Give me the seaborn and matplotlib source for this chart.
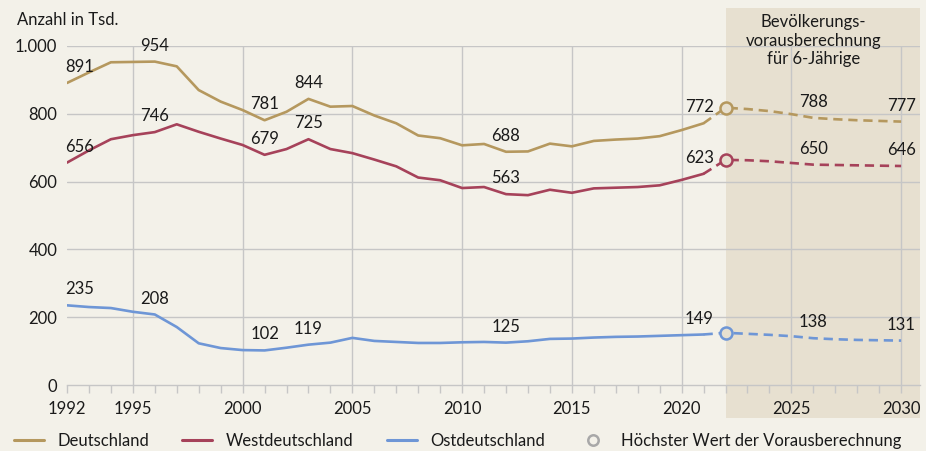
import seaborn as sns
import matplotlib.pyplot as plt
import pandas as pd
from matplotlib.lines import Line2D

# 6-Jaehrige, Anzahl in Tsd. (Ist-Werte 1992-2021)
jahre = list(range(1992, 2022))
deutschland = [891, 922, 952, 953, 954, 940, 870, 836, 811, 781, 806, 844, 821, 823, 795,
               772, 736, 728, 707, 711, 688, 689, 712, 704, 720, 724, 727, 734, 752, 772]
west = [656, 692, 725, 737, 746, 769, 747, 727, 708, 679, 696, 725, 696, 684, 665,
        645, 612, 604, 581, 584, 563, 560, 576, 567, 580, 582, 584, 589, 605, 623]
ost = [235, 230, 227, 216, 208, 171, 123, 109, 103, 102, 110, 119, 125, 139, 130,
       127, 124, 124, 126, 127, 125, 129, 136, 137, 140, 142, 143, 145, 147, 149]

# Vorausberechnung 2022-2030
jahre_vb = list(range(2022, 2031))
deutschland_vb = [818, 814, 808, 799, 788, 784, 781, 779, 777]
west_vb = [664, 663, 660, 655, 650, 649, 648, 647, 646]
ost_vb = [154, 151, 148, 144, 138, 135, 133, 132, 131]

label_jahre = [1992, 1996, 2001, 2003, 2012, 2021, 2026, 2030]
namen = ["Deutschland", "Westdeutschland", "Ostdeutschland"]
farben = ["#b5985e", "#a6425a", "#6e96d6"]

bg = "#f3f1e9"
band = "#e7e0d0"
grau = "#c6c6c6"
txt = "#1a1a1a"
fs = 12

sns.set_theme(style="white")
plt.rcParams["font.family"] = ["Lato", "DejaVu Sans"]
plt.rcParams["font.size"] = fs

fig = plt.figure(figsize=(9.26, 4.51), dpi=100, facecolor=bg)
ax = fig.add_axes([67 / 926, 66 / 451, 853 / 926, 339 / 451])
ax.set_facecolor(bg)

ax.set_xlim(1992, 2030.86)
ax.set_ylim(0, 1000)

# Bereich der Vorausberechnung
ax.axvspan(2022, 2030.86, ymin=-0.097, ymax=1.112, color=band, lw=0, clip_on=False, zorder=0)
ax.text(2026, 1016, "Bevölkerungs-\nvorausberechnung\nfür 6-Jährige", ha="center", va="center",
        fontsize=fs, color=txt, linespacing=1.2)

# Gitter
for y in [200, 400, 600, 800, 1000]:
    ax.axhline(y, color=grau, lw=1, zorder=1)
for x in range(1995, 2031, 5):
    ax.axvline(x, color=grau, lw=1, zorder=1)

serien = [(deutschland, deutschland_vb), (west, west_vb), (ost, ost_vb)]
for (ist, vb), name, c in zip(serien, namen, farben):
    df_ist = pd.DataFrame({"Jahr": jahre, "Wert": ist})
    df_vb = pd.DataFrame({"Jahr": [jahre[-1]] + jahre_vb, "Wert": [ist[-1]] + vb})
    sns.lineplot(data=df_ist, x="Jahr", y="Wert", color=c, lw=1.9, ax=ax, zorder=3)
    sns.lineplot(data=df_vb, x="Jahr", y="Wert", color=c, lw=1.9, ax=ax, zorder=3,
                 linestyle=(0, (3.5, 2.2)))
    ax.scatter([jahre_vb[0]], [vb[0]], s=75, facecolor=band, edgecolor=c, lw=1.8, zorder=4)
    alle = dict(zip(jahre + jahre_vb, ist + vb))
    for j in label_jahre:
        ha = "left" if j == 1992 else "center"
        dx = -3 if j == 2021 else (-1.5 if j == 1992 else 0)
        ax.annotate(str(alle[j]), (j, alle[j]), xytext=(dx, 11.5), textcoords="offset points",
                    ha=ha, va="center", fontsize=fs, color=txt, zorder=5)

# Achsen
ax.set_xlabel("")
ax.set_ylabel("")
for s in ["left", "right", "top"]:
    ax.spines[s].set_visible(False)
ax.spines["bottom"].set_color(grau)
ax.spines["bottom"].set_linewidth(1)
ax.spines["bottom"].set_zorder(2)

ax.set_yticks([0, 200, 400, 600, 800, 1000])
ax.set_yticklabels(["0", "200", "400", "600", "800", "1.000"])
ax.tick_params(axis="y", length=0, pad=7, labelsize=fs, labelcolor=txt)

ax.set_xticks([1992, 1995, 2000, 2005, 2010, 2015, 2020, 2025, 2030])
ax.set_xticklabels(["1992", "1995", "2000", "2005", "2010", "2015", "2020", "2025", "2030"])
ax.set_xticks(range(1992, 2031), minor=True)
ax.tick_params(axis="x", which="both", bottom=True, length=5.5, width=1, color=grau,
               pad=6, labelsize=fs, labelcolor=txt, direction="out")

fig.text(17 / 926, 1 - 20 / 451, "Anzahl in Tsd.", ha="left", va="center", fontsize=fs, color=txt)

# Legende
handles = [Line2D([], [], color=c, lw=2.2) for c in farben]
handles.append(Line2D([], [], ls="", marker="o", markersize=7.5, markerfacecolor="none",
                      markeredgecolor="#a8a8a8", markeredgewidth=1.8))
fig.legend(handles, namen + ["Höchster Wert der Vorausberechnung"], loc="center left",
           bbox_to_anchor=(14 / 926, 10 / 451), ncol=4, frameon=False, fontsize=fs,
           handlelength=1.8, handletextpad=0.8, columnspacing=2.0, borderpad=0,
           borderaxespad=0, labelcolor=txt)

fig.savefig("out.png", dpi=100, facecolor=bg)
